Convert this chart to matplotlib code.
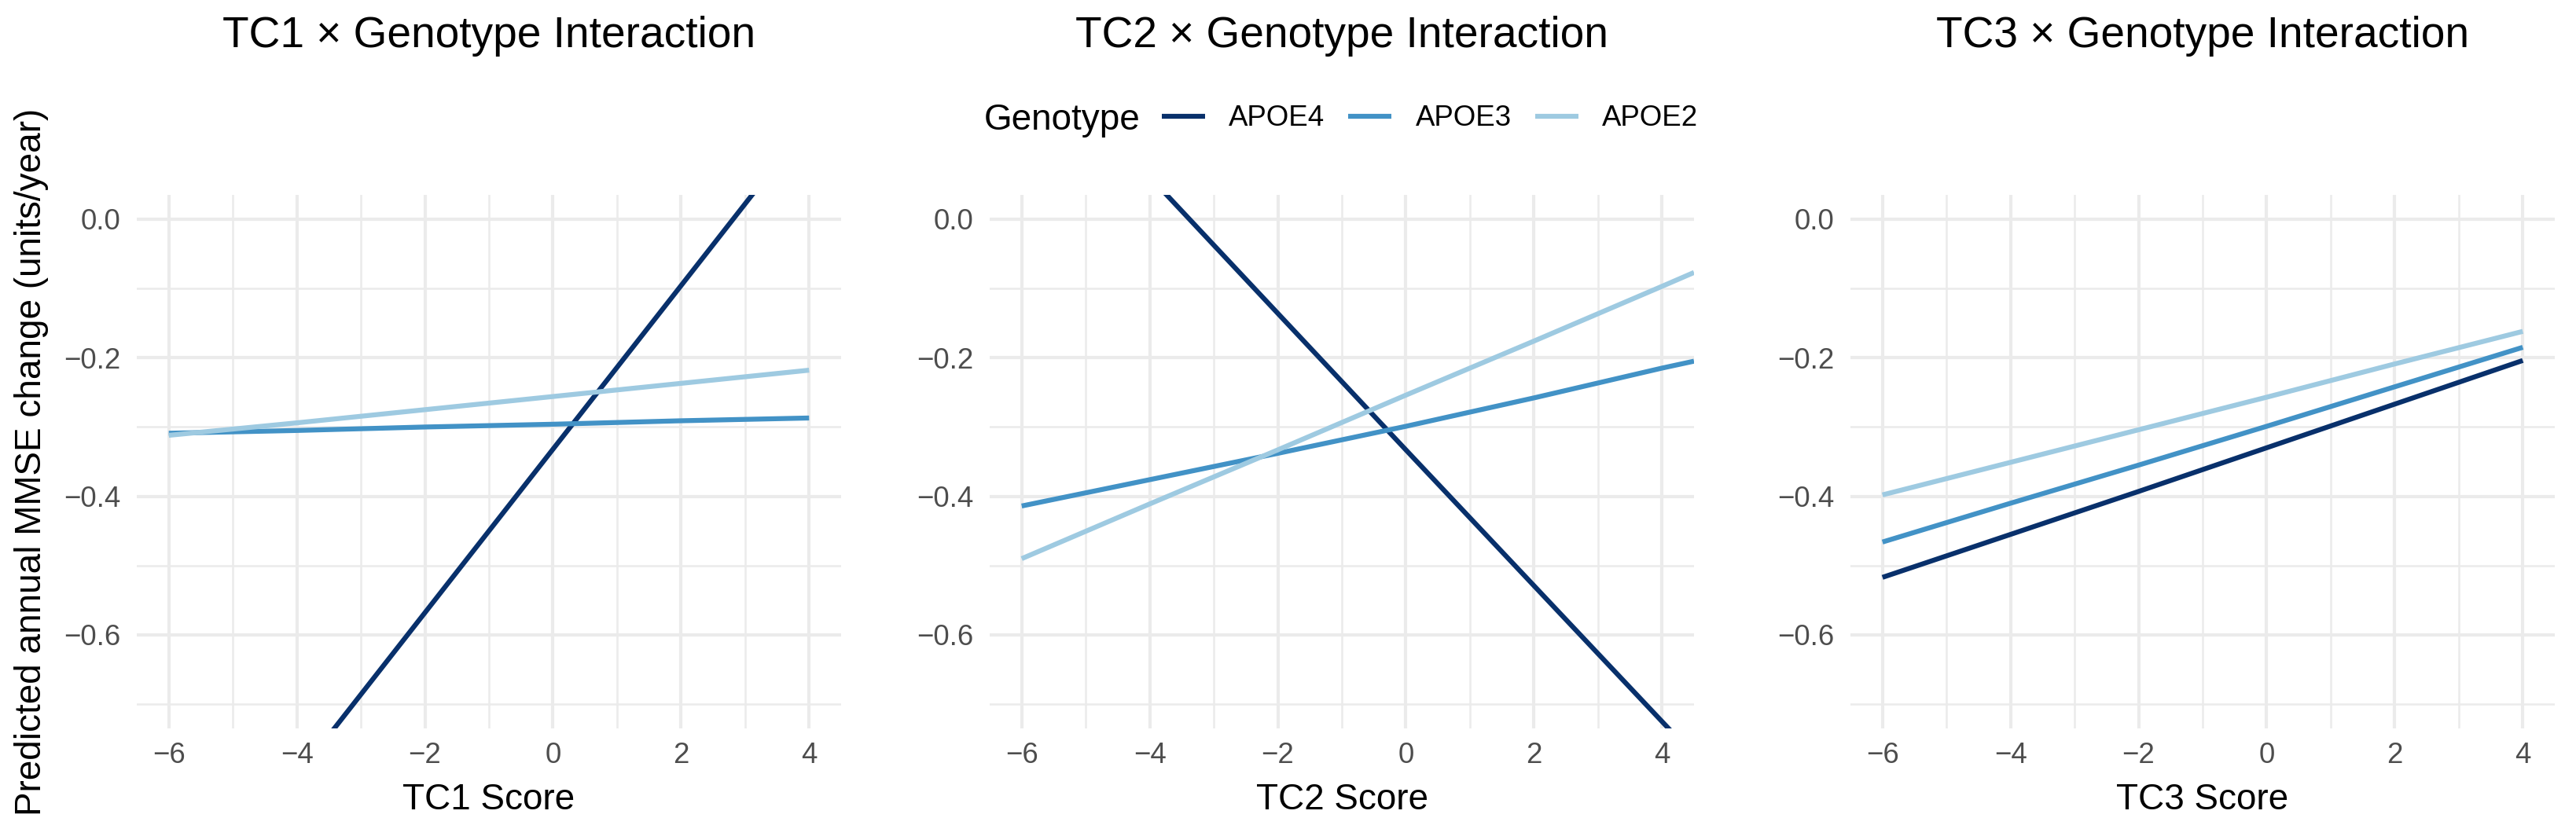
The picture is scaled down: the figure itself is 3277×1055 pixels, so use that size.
import matplotlib.pyplot as plt
from matplotlib.lines import Line2D

plt.rcParams['font.family'] = ['Liberation Sans', 'DejaVu Sans']

# Data (predicted annual MMSE change)
genotypes = ['APOE4', 'APOE3', 'APOE2']
colors = ['#08306B', '#4292C6', '#9ECAE1']
panel_names = ['TC1', 'TC2', 'TC3']

tc1_x = [-6, -4, -2, 0, 2, 4]
tc1_apoe4 = [-1.040, -0.804, -0.568, -0.332, -0.096, 0.140]
tc1_apoe3 = [-0.309, -0.305, -0.300, -0.296, -0.291, -0.287]
tc1_apoe2 = [-0.312, -0.294, -0.275, -0.256, -0.237, -0.218]

tc2_x = [-6, -4, -2, 0, 2, 4, 4.5]
tc2_apoe4 = [0.257, 0.061, -0.136, -0.333, -0.529, -0.725, -0.774]
tc2_apoe3 = [-0.414, -0.376, -0.338, -0.299, -0.258, -0.215, -0.205]
tc2_apoe2 = [-0.490, -0.411, -0.333, -0.254, -0.176, -0.097, -0.077]

tc3_x = [-6, -4, -2, 0, 2, 4]
tc3_apoe4 = [-0.517, -0.455, -0.393, -0.330, -0.267, -0.204]
tc3_apoe3 = [-0.466, -0.410, -0.355, -0.299, -0.242, -0.185]
tc3_apoe2 = [-0.398, -0.351, -0.304, -0.257, -0.209, -0.162]

x_ticks = [-6, -4, -2, 0, 2, 4]
x_tick_labels = ['\u22126', '\u22124', '\u22122', '0', '2', '4']
x_minor = [-5, -3, -1, 1, 3]
y_ticks = [0.0, -0.2, -0.4, -0.6]
y_tick_labels = ['0.0', '\u22120.2', '\u22120.4', '\u22120.6']
y_minor = [-0.1, -0.3, -0.5, -0.7]

panel_data = [
    (tc1_x, [tc1_apoe4, tc1_apoe3, tc1_apoe2]),
    (tc2_x, [tc2_apoe4, tc2_apoe3, tc2_apoe2]),
    (tc3_x, [tc3_apoe4, tc3_apoe3, tc3_apoe2]),
]

W, H = 3277, 1055
fig = plt.figure(figsize=(W / 300, H / 300), dpi=300)

lefts = [174, 1259, 2354]
pw, top, bottom = 896, 248, 927
LW = 1.5

for i, (name, (xs, series)) in enumerate(zip(panel_names, panel_data)):
    ax = fig.add_axes([lefts[i] / W, 1 - bottom / H, pw / W, (bottom - top) / H])
    for ys, col, lab in zip(series, colors, genotypes):
        ax.plot(xs, ys, color=col, lw=LW, solid_capstyle='butt', label=lab)

    ax.set_xlim(-6.5, 4.5)
    ax.set_ylim(-0.735, 0.035)
    ax.set_xticks(x_ticks, labels=x_tick_labels)
    ax.set_xticks(x_minor, minor=True)
    ax.set_yticks(y_ticks, labels=y_tick_labels)
    ax.set_yticks(y_minor, minor=True)
    ax.tick_params(which='both', length=0)
    ax.tick_params(axis='both', labelsize=8.8, labelcolor='#4D4D4D')
    ax.tick_params(axis='x', pad=4)
    ax.tick_params(axis='y', pad=5)
    ax.grid(which='major', color='#EBEBEB', lw=1.0)
    ax.grid(which='minor', color='#EBEBEB', lw=0.6)
    ax.set_axisbelow(True)
    for s in ax.spines.values():
        s.set_visible(False)

    ax.set_title(f'{name} \u00d7 Genotype Interaction', fontsize=13.2, pad=45)
    ax.set_xlabel(f'{name} Score', fontsize=11)
    ax.xaxis.label.set_va('baseline')
    ax.xaxis.set_label_coords(0.5, -(1030 - bottom) / (bottom - top))

fig.text(40 / W, 1 - 587.5 / H, 'Predicted annual MMSE change (units/year)',
         rotation=90, ha='center', va='center', fontsize=11)

# legend: title on the left, entries in a row
fig.text(1252 / W, 1 - 165 / H, 'Genotype', ha='left', va='baseline', fontsize=11)
handles = [Line2D([], [], color=c, lw=LW, solid_capstyle='butt') for c in colors]
fig.legend(handles, genotypes, loc='center left', bbox_to_anchor=(1478 / W, 1 - 151 / H),
           ncol=3, frameon=False, fontsize=8.8, borderpad=0, borderaxespad=0,
           handlelength=1.5, handletextpad=0.82, columnspacing=0.82)

fig.savefig('out.png', dpi=300, facecolor='white')
